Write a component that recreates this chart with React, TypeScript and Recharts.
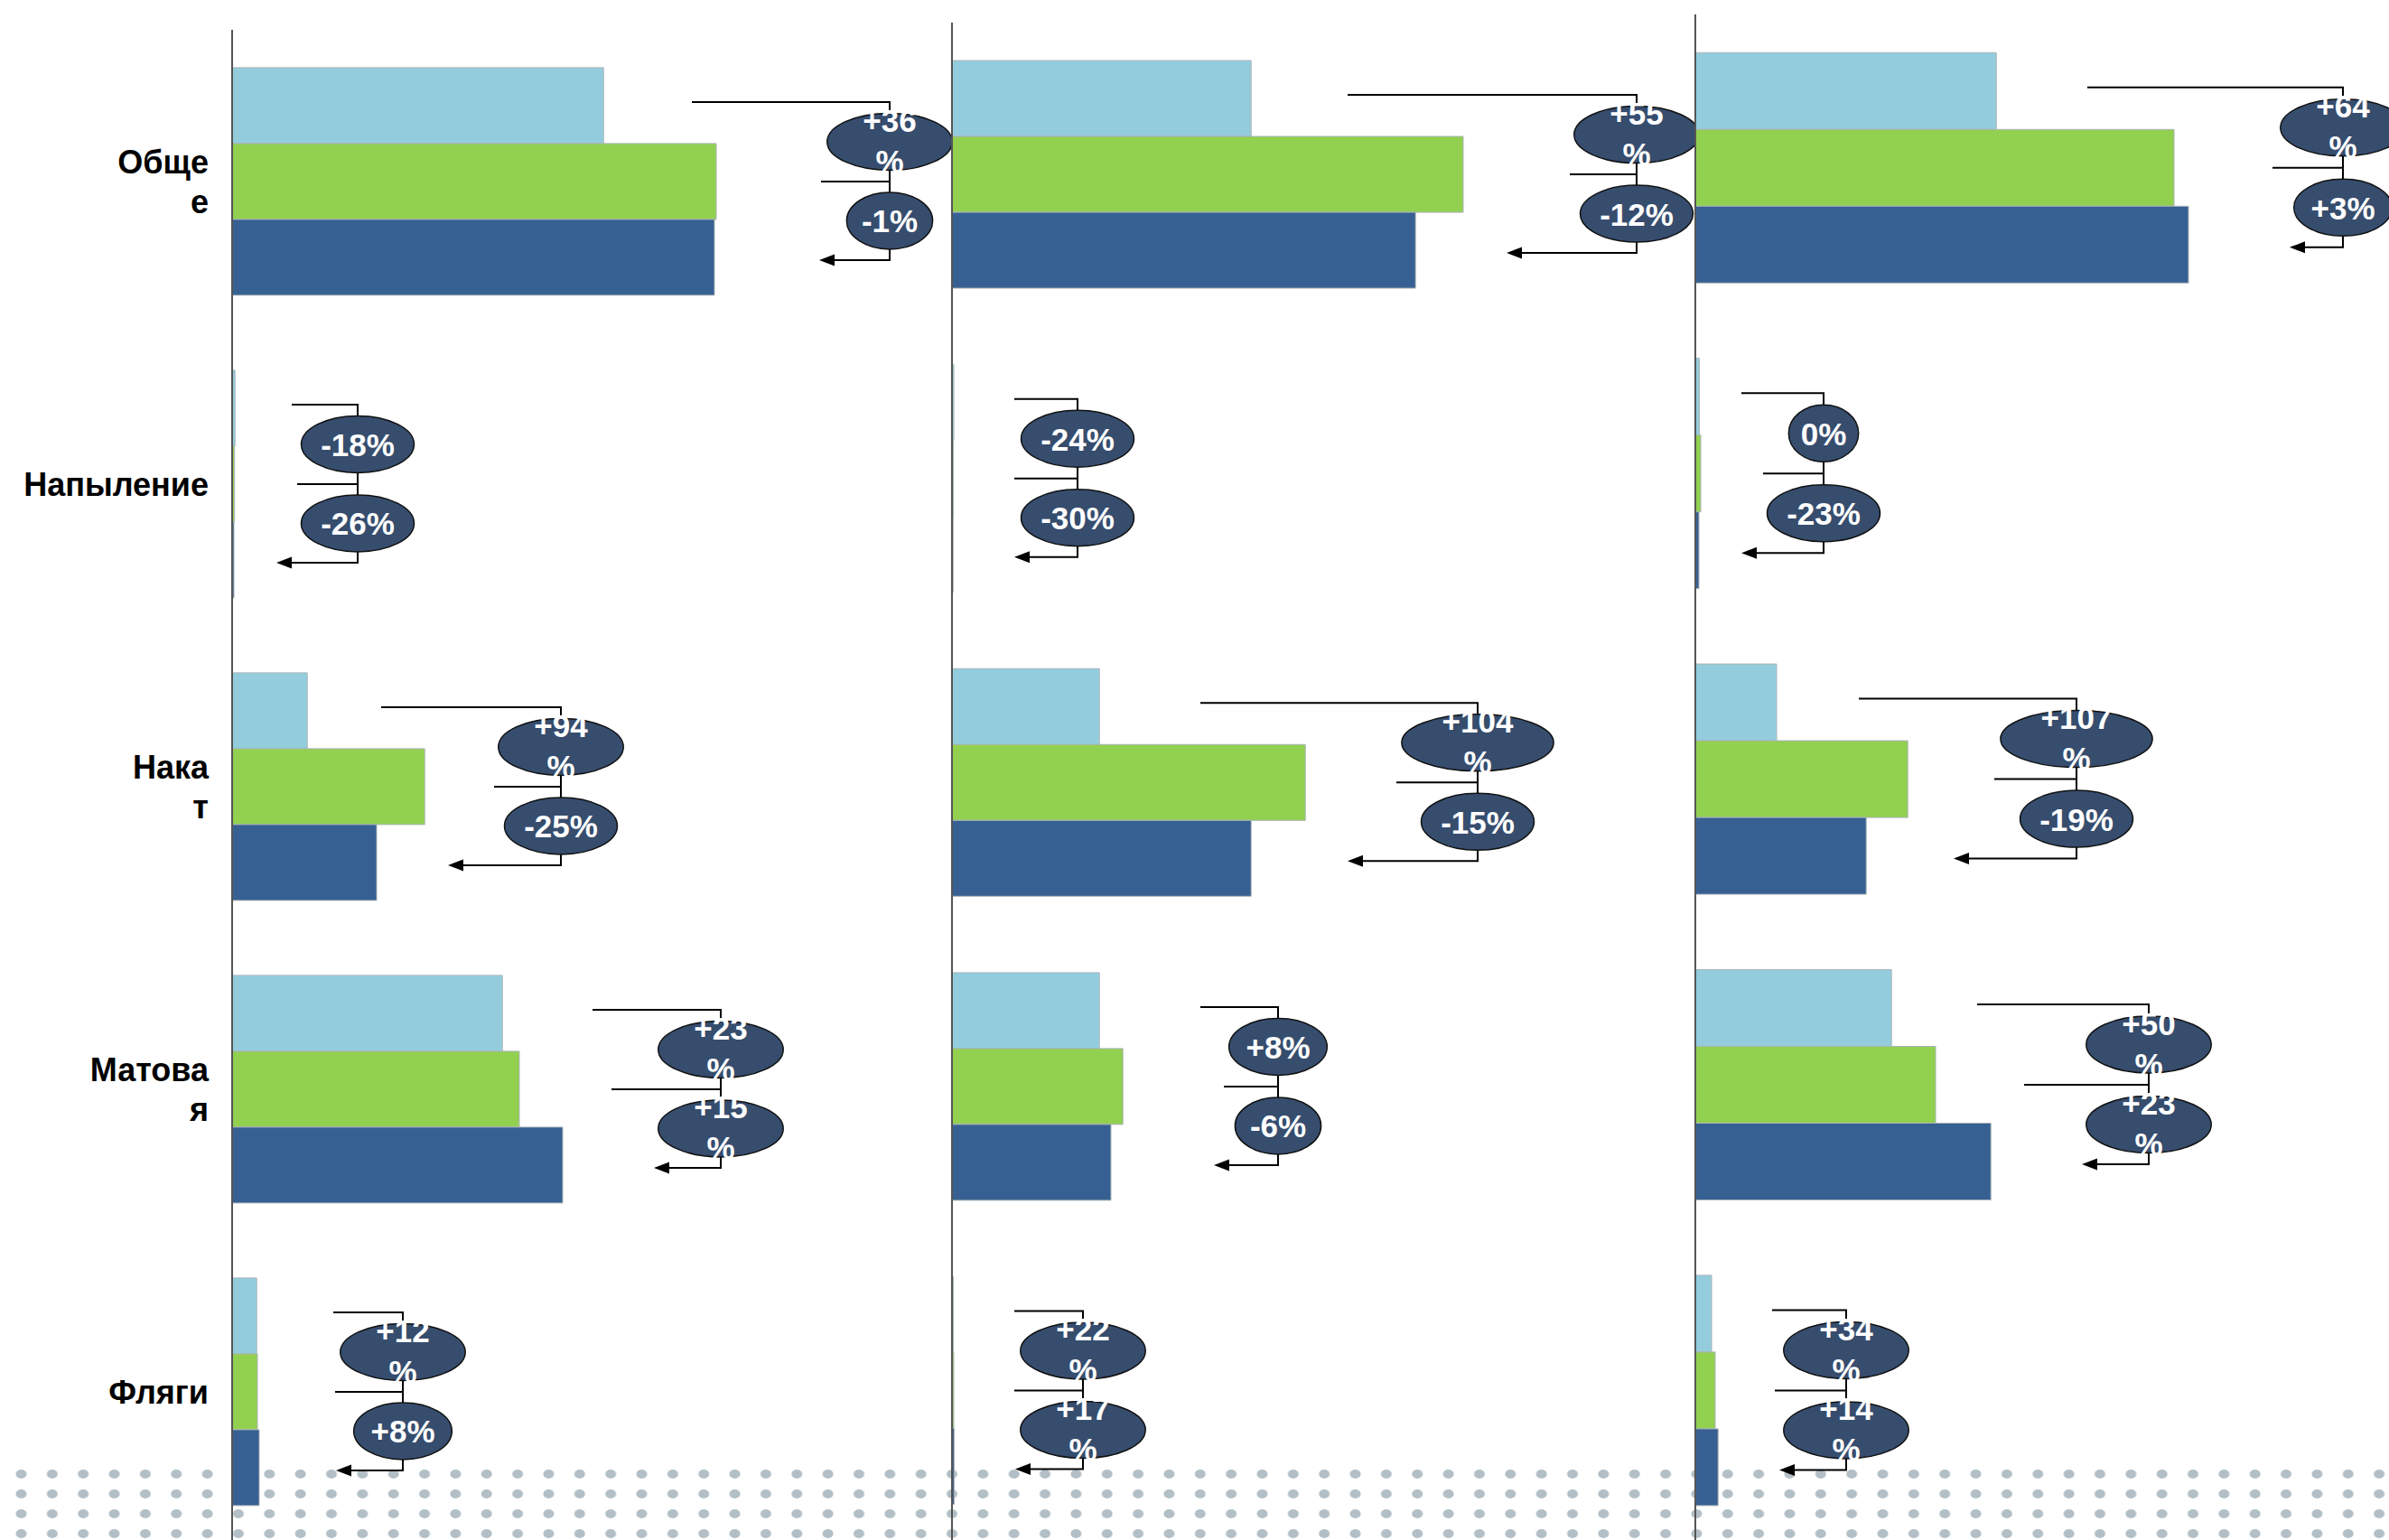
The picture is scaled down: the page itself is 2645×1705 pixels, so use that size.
import { BarChart, Bar, XAxis, YAxis, LabelList } from 'recharts';

// categories and wrapped tick text as it appears on the slide
const categories = ['Общее', 'Напыление', 'Накат', 'Матовая', 'Фляги'];
const tickLines = [['Обще', 'е'], ['Напыление'], ['Нака', 'т'], ['Матова', 'я'], ['Фляги']];

// panel 1
const p1Light = [102.8, 0.8, 20.8, 74.8, 6.8];
const p1Green = [134, 0.65, 53.3, 79.5, 7];
const p1Dark = [133.5, 0.5, 40, 91.5, 7.5];
const p1TopChange = ['+36%', '-18%', '+94%', '+23%', '+12%'];
const p1BottomChange = ['-1%', '-26%', '-25%', '+15%', '+8%'];

// panel 2
const p2Light = [82.8, 0.5, 40.8, 40.8, 0.4];
const p2Green = [141.5, 0.4, 97.8, 47.3, 0.5];
const p2Dark = [128.3, 0.3, 82.8, 44, 0.6];
const p2TopChange = ['+55%', '-24%', '+104%', '+8%', '+22%'];
const p2BottomChange = ['-12%', '-30%', '-15%', '-6%', '+17%'];

// panel 3
const p3Light = [83.3, 1.1, 22.5, 54.3, 4.5];
const p3Green = [132.5, 1.5, 58.8, 66.5, 5.5];
const p3Dark = [136.5, 1, 47.3, 81.8, 6.3];
const p3TopChange = ['+64%', '0%', '+107%', '+50%', '+34%'];
const p3BottomChange = ['+3%', '-23%', '-19%', '+23%', '+14%'];

// callout placement (px from the axis): bracket x, top line start, middle line start, arrow tip
const p1Callout = [[728, 509, 652, 650], [139, 66, 72, 49], [364, 165, 290, 239], [541, 399, 420, 467], [189, 112, 114, 115]];
const p2Callout = [[758, 438, 684, 614], [139, 69, 69, 69], [582, 275, 492, 438], [361, 275, 301, 290], [145, 69, 69, 70]];
const p3Callout = [[717, 434, 639, 658], [142, 51, 75, 51], [422, 181, 331, 286], [502, 312, 364, 428], [167, 85, 88, 93]];

const FONT = '"Liberation Sans", Arial, sans-serif';
const LIGHT = '#93cddd';
const GREEN = '#92d050';
const DARK = '#376092';
const BUBBLE = '#364d6e';
const BUBBLE_FONT = 35;

const charW: Record<string, number> = { '+': 0.584, '-': 0.333, '%': 0.889 };
const textWidth = (s: string) =>
  s.split('').reduce((acc, c) => acc + (charW[c] ?? 0.556), 0) * BUBBLE_FONT;

function Bubble({ cx, cy, label }: { cx: number; cy: number; label: string }) {
  const rx = textWidth(label) * 0.765;
  const wrap = label.startsWith('+') && label.length >= 4;
  const lines = wrap ? [label.slice(0, -1), '%'] : [label];
  return (
    <g>
      <ellipse cx={cx} cy={cy} rx={rx} ry={31.5} fill={BUBBLE} stroke="#111" strokeWidth={1.5} />
      {lines.map((l, i) => (
        <text
          key={i}
          x={cx}
          y={wrap ? cy - 11 + i * 45 : cy + 13}
          textAnchor="middle"
          fontFamily={FONT}
          fontWeight="bold"
          fontSize={BUBBLE_FONT}
          fill="#fff"
        >
          {l}
        </text>
      ))}
    </g>
  );
}

function makeCallout(tops: string[], bottoms: string[], place: number[][]) {
  return (props: any) => {
    const vb = props.viewBox ?? props;
    const i = props.index;
    if (i == null || !place[i]) return null;
    const x0 = Number(vb.x);
    const y = Number(vb.y);
    const h = Number(vb.height);
    const [vx, topStart, midStart, tip] = place[i].map((v) => x0 + v);
    const yTop = y - 1.5 * h - 4;
    const yMid = y - 0.5 * h;
    const yArr = y + 0.5 * h + 3;
    return (
      <g>
        <polyline points={`${topStart},${yTop} ${vx},${yTop} ${vx},${yArr} ${tip + 14},${yArr}`} fill="none" stroke="#000" strokeWidth={2} />
        <line x1={midStart} y1={yMid} x2={vx} y2={yMid} stroke="#000" strokeWidth={2} />
        <polygon points={`${tip},${yArr} ${tip + 17},${yArr - 6.5} ${tip + 17},${yArr + 6.5}`} fill="#000" />
        <Bubble cx={vx} cy={(yTop + yMid) / 2} label={tops[i]} />
        <Bubble cx={vx} cy={(yMid + yArr) / 2} label={bottoms[i]} />
      </g>
    );
  };
}

const CategoryTick = (props: any) => {
  const { x, y, payload } = props;
  const idx = categories.indexOf(payload.value);
  const lines = tickLines[idx] ?? [payload.value];
  return (
    <text x={x} y={y} textAnchor="end" fontFamily={FONT} fontWeight="bold" fontSize={36} fill="#000">
      {lines.map((l, i) => (
        <tspan key={i} x={x} dy={i === 0 ? `${0.375 - (lines.length - 1) * 0.61}em` : '1.22em'}>
          {l}
        </tspan>
      ))}
    </text>
  );
};

const build = (light: number[], green: number[], dark: number[]) =>
  categories.map((name, i) => ({ name, light: light[i], green: green[i], dark: dark[i] }));

interface PanelProps {
  left: number;
  top: number;
  height: number;
  axisWidth: number;
  labels: boolean;
  light: number[];
  green: number[];
  dark: number[];
  tops: string[];
  bottoms: string[];
  place: number[][];
}

function Panel({ left, top, height, axisWidth, labels, light, green, dark, tops, bottoms, place }: PanelProps) {
  const data = build(light, green, dark);
  return (
    <div style={{ position: 'absolute', left, top }}>
      <BarChart
        width={axisWidth + 800 + 120}
        height={height}
        data={data}
        layout="vertical"
        barCategoryGap="12.5%"
        barGap={0}
        margin={{ top: 0, right: 120, bottom: 0, left: 0 }}
      >
        <XAxis type="number" domain={[0, 200]} hide />
        <YAxis
          type="category"
          dataKey="name"
          width={axisWidth}
          axisLine={{ stroke: '#555', strokeWidth: 2 }}
          tickLine={false}
          tickSize={0}
          tickMargin={26}
          tick={labels ? <CategoryTick /> : false}
          interval={0}
        />
        <Bar dataKey="light" fill={LIGHT} stroke="#a9b4b8" strokeWidth={1} isAnimationActive={false} />
        <Bar dataKey="green" fill={GREEN} stroke="#a9b4b8" strokeWidth={1} isAnimationActive={false} />
        <Bar dataKey="dark" fill={DARK} stroke="#a9b4b8" strokeWidth={1} isAnimationActive={false}>
          <LabelList dataKey="dark" content={makeCallout(tops, bottoms, place)} />
        </Bar>
      </BarChart>
    </div>
  );
}

export default function App() {
  return (
    <div style={{ position: 'fixed', left: 0, top: 0, width: 2645, height: 1705, overflow: 'hidden', background: '#fff' }}>
      <svg width={2645} height={1705} style={{ position: 'absolute', left: 0, top: 0 }}>
        <defs>
          <pattern id="dots" x={6.3} y={1621} width={34.35} height={22} patternUnits="userSpaceOnUse">
            <ellipse cx={17.2} cy={11} rx={6} ry={5} fill="#b3bfc6" />
          </pattern>
        </defs>
        <rect x={0} y={1619} width={2645} height={90} fill="url(#dots)" />
      </svg>
      <Panel left={0} top={33} height={1675} axisWidth={257} labels light={p1Light} green={p1Green} dark={p1Dark} tops={p1TopChange} bottoms={p1BottomChange} place={p1Callout} />
      <Panel left={1044} top={25} height={1683} axisWidth={10} labels={false} light={p2Light} green={p2Green} dark={p2Dark} tops={p2TopChange} bottoms={p2BottomChange} place={p2Callout} />
      <Panel left={1867} top={16} height={1692} axisWidth={10} labels={false} light={p3Light} green={p3Green} dark={p3Dark} tops={p3TopChange} bottoms={p3BottomChange} place={p3Callout} />
    </div>
  );
}
